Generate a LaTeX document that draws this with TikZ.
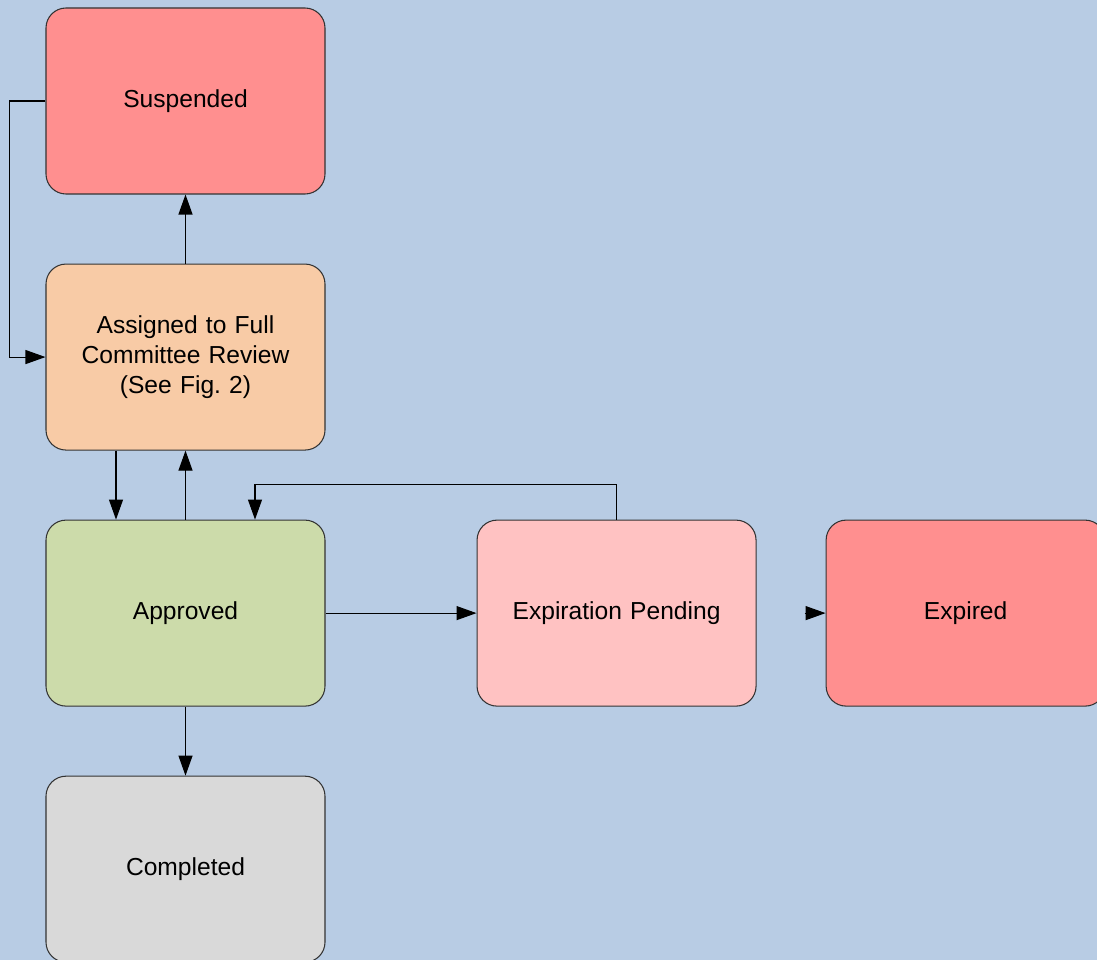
\documentclass[tikz,border=0pt]{standalone}
\usepackage{fontspec}
\setmainfont{Liberation Sans}
\usepackage{xcolor}
\usetikzlibrary{arrows.meta, positioning, calc}

\definecolor{bgblue}{HTML}{B8CCE4}
\definecolor{suspred}{HTML}{FF8F8F}
\definecolor{assignorange}{HTML}{F8CBA6}
\definecolor{approvgreen}{HTML}{CCDBAA}
\definecolor{pendpink}{HTML}{FFC2C2}
\definecolor{donegray}{HTML}{D9D9D9}
\definecolor{edgegray}{HTML}{333333}

\begin{document}
\begin{tikzpicture}[
    node distance=1.38cm,
    state/.style={rectangle, draw=edgegray, line width=0.6pt, text width=5.2cm, align=center, rounded corners=0.4cm, minimum width=5.58cm, minimum height=3.72cm, font=\fontsize{14}{17}\selectfont},
    arrow/.style={-{Triangle[length=0.4cm, width=0.28cm]}, line width=0.6pt}
]

% background and page size
\fill[bgblue] (0,0) rectangle (21.94,-19.2);
\useasboundingbox (0,0) rectangle (21.94,-19.2);

\node[state, fill=suspred] (suspended) at (3.71,-2.02) {Suspended};
\node[state, fill=assignorange, below=of suspended] (fullreview) {Assigned to Full\\Committee Review\\(See Fig.\ 2)};
\node[state, fill=approvgreen, below=of fullreview] (approved) {Approved};
\node[state, fill=donegray, below=of approved] (completed) {Completed};
\node[state, fill=pendpink, right=3.02cm of approved] (exppending) {Expiration Pending};
\node[state, fill=suspred, right=of exppending] (expired) {Expired};

\draw[arrow] (suspended.west) -- ++(-0.72,0) |- (fullreview.west);
\draw[arrow] (fullreview.north) -- (suspended.south);
\draw[arrow] ([xshift=-1.39cm]fullreview.south) -- ([xshift=-1.39cm]approved.north);
\draw[arrow] (approved.north) -- (fullreview.south);
\draw[arrow] (exppending.north) -- ++(0,0.7) -| ([xshift=1.39cm]approved.north);
\draw[arrow] (approved.east) -- (exppending.west);
\draw[arrow] ([xshift=-0.42cm]expired.west) -- (expired.west);
\draw[arrow] (approved.south) -- (completed.north);

\end{tikzpicture}
\end{document}
